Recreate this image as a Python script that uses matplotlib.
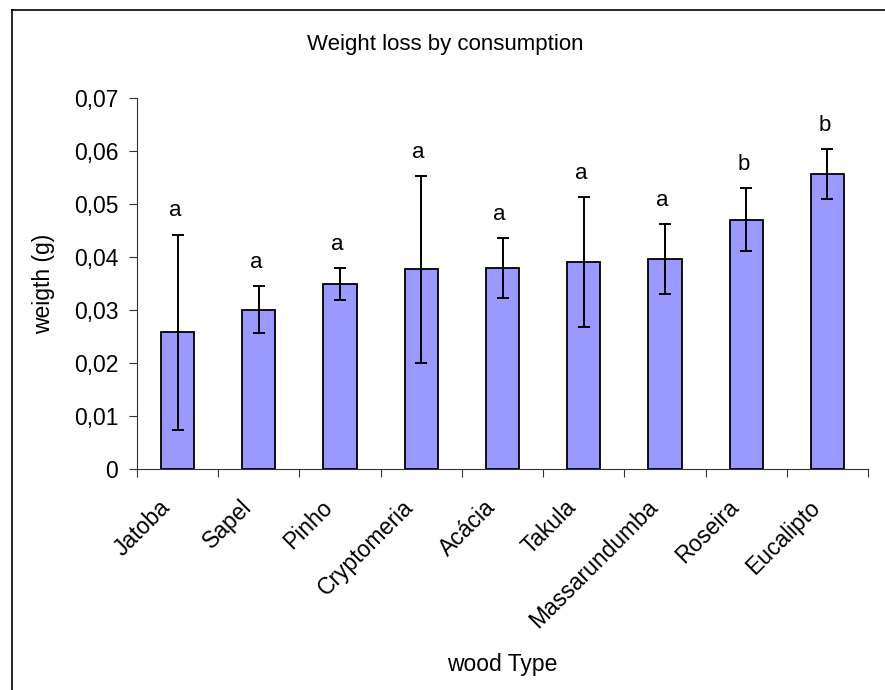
import numpy as np
import matplotlib.pyplot as plt
from matplotlib.lines import Line2D
from matplotlib.transforms import ScaledTranslation

plt.rcParams['font.family'] = ['Liberation Sans', 'DejaVu Sans']

#wood types and mean weight loss (g)
woods = ["Jatoba", "Sapel", "Pinho", "Cryptomeria", "Acácia", "Takula",
         "Massarundumba", "Roseira", "Eucalipto"]
weight = [0.0259, 0.0301, 0.0350, 0.0377, 0.0380, 0.0391, 0.0397, 0.0471, 0.0557]
#standard deviation of each group
err = [0.0184, 0.0044, 0.0030, 0.0177, 0.0057, 0.0123, 0.0066, 0.0059, 0.0047]
#significance letters
groups = ["a", "a", "a", "a", "a", "a", "a", "b", "b"]

y_ticks = [0, 0.01, 0.02, 0.03, 0.04, 0.05, 0.06, 0.07]

fs = 16.5

fig = plt.figure(figsize=(8.85, 6.9), dpi=100)
ax = fig.add_axes([0.1548, 0.3199, 0.8260, 0.5376])

x = np.arange(len(woods))
ax.bar(x, weight, width=0.41, color="#9999FF", edgecolor="black", linewidth=1.3, zorder=2)
ax.errorbar(x, weight, yerr=err, fmt="none", ecolor="black", elinewidth=1.4,
            capsize=4.3, capthick=1.4, zorder=3)

#letters above the error bars
for i in range(len(woods)):
    ax.annotate(groups[i], (x[i], weight[i] + err[i]), xytext=(-2, 13),
                textcoords="offset points", ha="center", va="baseline", fontsize=16)

#axis limits and ticks
ax.set_xlim(-0.5, len(woods) - 0.5)
ax.set_ylim(0, 0.07)
ax.set_yticks(y_ticks)
ax.set_yticklabels([("%g" % v).replace(".", ",") for v in y_ticks])
ax.set_xticks(np.arange(len(woods) + 1) - 0.5)
ax.set_xticklabels([])
ax.set_xticks(x, minor=True)
ax.set_xticklabels(woods, minor=True, rotation=45, ha="right", va="center",
                   rotation_mode="anchor")
ax.tick_params(axis="x", which="minor", length=0, pad=25, labelsize=fs)
ax.tick_params(axis="both", which="major", direction="out", length=5.5,
               width=0.8, color="#333333", labelsize=fs)
ax.tick_params(axis="y", pad=8)

#shift the rotated names a little to the left
shift = ScaledTranslation(-11/100, 0, fig.dpi_scale_trans)
for lab in ax.get_xticklabels(minor=True):
    lab.set_transform(lab.get_transform() + shift)

for s in ["top", "right"]:
    ax.spines[s].set_visible(False)
for s in ["left", "bottom"]:
    ax.spines[s].set_color("#333333")
    ax.spines[s].set_linewidth(0.8)

ax.set_ylabel("weigth (g)", fontsize=fs)
ax.set_xlabel("wood Type", fontsize=fs)
ax.xaxis.set_label_coords(0.5, -0.495)
ax.yaxis.set_label_coords(-0.112, 0.5)

fig.text(0.503, 0.936, "Weight loss by consumption", ha="center", va="center", fontsize=16)

#chart frame
fig.add_artist(Line2D([12/885, 12/885], [0, 1 - 10/690], color="black", linewidth=1.2))
fig.add_artist(Line2D([12/885, 1], [1 - 10/690, 1 - 10/690], color="black", linewidth=1.2))

fig.savefig("out.png", dpi=100)
